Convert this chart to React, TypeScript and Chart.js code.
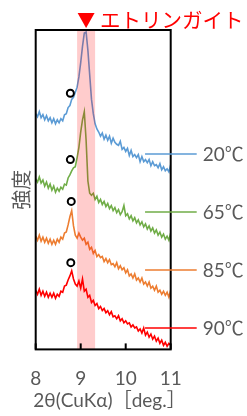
import React, { useEffect, useRef } from "react";
import { Chart, registerables } from "chart.js";
Chart.register(...registerables);

// 2θ sampling (deg)
const twoTheta = [
  8.0, 8.04, 8.08, 8.12, 8.16, 8.2, 8.24, 8.28, 8.32, 8.36,
  8.4, 8.44, 8.48, 8.52, 8.56, 8.6, 8.64, 8.68, 8.72, 8.76,
  8.8, 8.84, 8.88, 8.92, 8.96, 9.0, 9.04, 9.08, 9.12, 9.16,
  9.2, 9.24, 9.28, 9.32, 9.36, 9.4, 9.44, 9.48, 9.52, 9.56,
  9.6, 9.64, 9.68, 9.72, 9.76, 9.8, 9.84, 9.88, 9.92, 9.96,
  10.0, 10.04, 10.08, 10.12, 10.16, 10.2, 10.24, 10.28, 10.32, 10.36,
  10.4, 10.44, 10.48, 10.52, 10.56, 10.6, 10.64, 10.68, 10.72, 10.76,
  10.8, 10.84, 10.88, 10.92, 10.96, 11.0,
];

// intensities (offset, arbitrary units)
const int20 = [
  231, 228, 233, 227, 230, 225, 229, 224, 227, 222,
  226, 221, 225, 222, 226, 224, 230, 231, 237, 239,
  245, 247, 252, 257, 267, 281, 297, 310, 311, 293,
  269, 245, 231, 221, 216, 213, 209, 212, 206, 210,
  205, 209, 202, 207, 203, 201, 200, 204, 196, 198,
  194, 197, 190, 195, 189, 191, 188, 191, 184, 189,
  184, 186, 183, 186, 180, 184, 180, 181, 178, 182,
  176, 179, 175, 177, 174, 181,
];
const int65 = [
  167, 164, 169, 163, 166, 160, 164, 158, 162, 156,
  160, 154, 158, 155, 159, 157, 162, 161, 168, 171,
  175, 178, 179, 188, 198, 213, 225, 233, 205, 165,
  153, 151, 153, 147, 150, 144, 147, 142, 145, 140,
  143, 138, 141, 136, 139, 134, 137, 132, 135, 141,
  131, 133, 128, 131, 126, 129, 124, 127, 122, 125,
  120, 123, 118, 121, 116, 119, 114, 117, 112, 115,
  110, 113, 108, 111, 107, 114,
];
const int85 = [
  111, 107, 112, 106, 110, 105, 109, 104, 108, 103,
  107, 103, 108, 105, 110, 108, 114, 115, 122, 130,
  136, 121, 112, 109, 114, 110, 107, 109, 103, 105,
  98, 100, 94, 97, 91, 93, 90, 91, 86, 89,
  85, 88, 83, 84, 81, 85, 79, 82, 78, 80,
  75, 78, 72, 74, 70, 74, 68, 70, 66, 70,
  64, 66, 62, 66, 60, 62, 58, 62, 56, 58,
  54, 57, 53, 56, 51, 58,
];
const int90 = [
  58, 54, 59, 53, 57, 52, 56, 51, 55, 51,
  55, 50, 54, 52, 57, 56, 62, 63, 68, 72,
  77, 69, 64, 62, 67, 60, 69, 57, 59, 51,
  53, 46, 48, 43, 45, 40, 42, 38, 40, 36,
  38, 34, 37, 32, 33, 30, 33, 28, 30, 26,
  28, 25, 26, 22, 24, 21, 22, 18, 20, 16,
  21, 14, 17, 12, 15, 10, 13, 8, 11, 6,
  9, 4, 7, 3, 6, 4,
];

const seriesNames = ["20℃", "65℃", "85℃", "90℃"];
const seriesColors = ["#5B9BD5", "#70AD47", "#ED7D31", "#FF0000"];
const seriesData = [int20, int65, int85, int90];
// leader line levels for right-hand labels (intensity units)
const labelLevels = [191, 135, 78, 21];
const labelStartX = 10.43;

// open-circle markers (shoulder peak)
const shoulderX = [8.77, 8.77, 8.79, 8.78];
const shoulderY = [251, 186, 145, 85];

// ettringite band and peak
const bandRange = [8.92, 9.32];
const ettringitePeak = 9.12;
const ettringiteLabel = "エトリンガイト";

const xTitle = "2θ(CuKα)［deg.］";
const yTitle = "強度";

const GRAY = "#595959";
const NUM_FONT = "Lato, 'Noto Sans CJK JP', sans-serif";
const JP_FONT = "'Noto Sans CJK JP', sans-serif";

const overlay = {
  id: "overlay",
  afterDatasetsDraw(chart: any) {
    const { ctx, chartArea: a, scales } = chart;
    const x = scales.x;
    ctx.save();
    // band (semi-transparent over lines)
    const b0 = x.getPixelForValue(bandRange[0]);
    const b1 = x.getPixelForValue(bandRange[1]);
    ctx.fillStyle = "rgba(255,0,0,0.2)";
    ctx.fillRect(b0, a.top, b1 - b0, a.bottom - a.top);
    ctx.restore();
  },
  afterDraw(chart: any) {
    const { ctx, chartArea: a, scales } = chart;
    const x = scales.x;
    const y = scales.y;
    ctx.save();
    // frame
    ctx.strokeStyle = "#000";
    ctx.lineWidth = 2;
    ctx.strokeRect(a.left, a.top, a.right - a.left, a.bottom - a.top);
    // inward tick marks
    x.ticks.forEach((t: any) => {
      const px = x.getPixelForValue(t.value);
      ctx.beginPath();
      ctx.moveTo(px, a.bottom);
      ctx.lineTo(px, a.bottom - 6);
      ctx.stroke();
    });
    // leader lines + labels
    const lx0 = x.getPixelForValue(labelStartX);
    const lx1 = a.right + 26;
    seriesNames.forEach((name, i) => {
      const py = Math.round(y.getPixelForValue(labelLevels[i]));
      ctx.strokeStyle = seriesColors[i];
      ctx.lineWidth = 1.5;
      ctx.beginPath();
      ctx.moveTo(lx0, py);
      ctx.lineTo(lx1, py);
      ctx.stroke();
      ctx.fillStyle = GRAY;
      ctx.font = `19px ${NUM_FONT}`;
      ctx.textAlign = "left";
      ctx.textBaseline = "middle";
      ctx.fillText(name, lx1 + 6, py + 1);
    });
    // ettringite marker
    const tx = x.getPixelForValue(ettringitePeak);
    ctx.fillStyle = "#FF0000";
    ctx.beginPath();
    ctx.moveTo(tx - 8.5, a.top - 17);
    ctx.lineTo(tx + 8.5, a.top - 17);
    ctx.lineTo(tx, a.top - 2);
    ctx.closePath();
    ctx.fill();
    ctx.font = `20.5px ${JP_FONT}`;
    ctx.textAlign = "left";
    ctx.textBaseline = "middle";
    ctx.fillText(ettringiteLabel, tx + 14, a.top - 10);
    // x title
    ctx.fillStyle = GRAY;
    ctx.font = `19px ${NUM_FONT}`;
    ctx.textAlign = "center";
    ctx.fillText(xTitle, 109.5, chart.height - 15);
    ctx.restore();
  },
};

export default function App() {
  const ref = useRef<HTMLCanvasElement | null>(null);
  useEffect(() => {
    if (!ref.current) return;
    const lineSets = seriesData.map((vals, i) => ({
      type: "line" as const,
      label: seriesNames[i],
      data: vals.map((v, k) => ({ x: twoTheta[k], y: v })),
      borderColor: seriesColors[i],
      borderWidth: 1.6,
      pointRadius: 0,
      tension: 0,
      fill: false,
      order: i + 1,
    }));
    const circles = {
      type: "scatter" as const,
      label: "shoulder",
      data: shoulderX.map((v, k) => ({ x: v, y: shoulderY[k] })),
      pointStyle: "circle",
      pointRadius: 3.5,
      pointBorderWidth: 2,
      borderColor: "#000",
      backgroundColor: "#fff",
      pointBackgroundColor: "#fff",
      pointBorderColor: "#000",
      order: 0,
    };
    const chart = new Chart(ref.current, {
      type: "line",
      data: { datasets: [circles as any, ...lineSets] },
      options: {
        animation: false,
        responsive: false,
        maintainAspectRatio: false,
        layout: { padding: { top: 30, right: 76.3, bottom: 7.8, left: 0 } },
        plugins: { legend: { display: false }, tooltip: { enabled: false } },
        scales: {
          x: {
            type: "linear",
            min: 8,
            max: 11,
            ticks: {
              stepSize: 1,
              color: GRAY,
              padding: 18,
              font: { size: 19, family: NUM_FONT },
            },
            grid: { display: false, drawTicks: false },
            border: { display: false },
          },
          y: {
            type: "linear",
            min: 0,
            max: 313,
            ticks: { display: false },
            grid: { display: false, drawTicks: false },
            border: { display: false },
            title: {
              display: true,
              text: yTitle,
              color: GRAY,
              font: { size: 20, family: JP_FONT },
              padding: { top: 9, bottom: 2.7 },
            },
          },
        },
      },
      plugins: [overlay],
    });
    return () => chart.destroy();
  }, []);
  return (
    <div style={{ position: "fixed", left: 0, top: 0, width: 247, height: 416, background: "#fff" }}>
      <canvas ref={ref} width={247} height={416} style={{ display: "block", width: 247, height: 416 }} />
    </div>
  );
}
